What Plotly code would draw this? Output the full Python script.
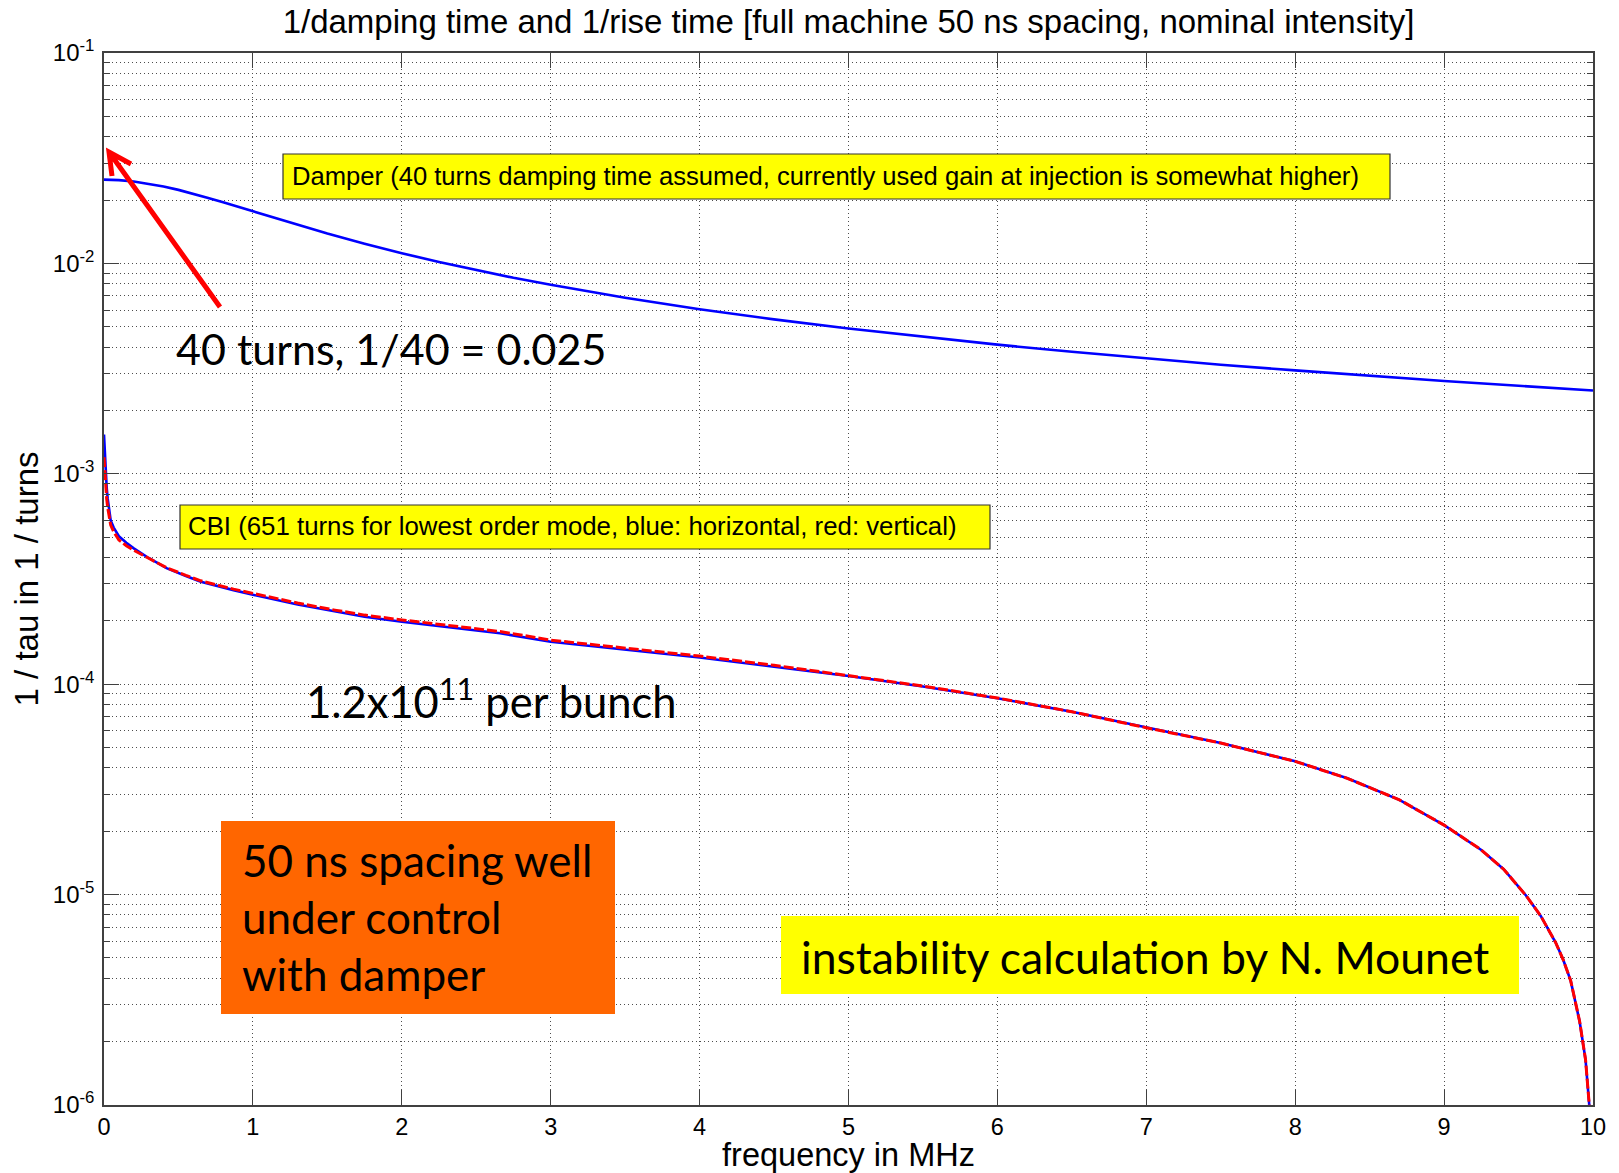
import plotly.graph_objects as go

# ---- data -------------------------------------------------------------
# damper: 1/damping time (1/turns) vs frequency (MHz)
damper_f = [0, 0.1, 0.2, 0.3, 0.4, 0.5, 0.6, 0.7, 0.8, 0.9, 1.0, 1.125, 1.25,
            1.375, 1.5, 1.75, 2.0, 2.25, 2.5, 2.75, 3.0, 3.5, 4.0, 4.5, 5.0,
            5.5, 6.0, 6.5, 7.0, 7.5, 8.0, 8.5, 9.0, 9.5, 10.0]
damper_rate = [0.0250, 0.02488, 0.02452, 0.02395, 0.02321, 0.02236, 0.02144,
               0.02048, 0.01952, 0.01858, 0.01768, 0.01663, 0.01562, 0.01470,
               0.01387, 0.01241, 0.01118, 0.01016, 0.00928, 0.00854, 0.00791,
               0.00687, 0.00606, 0.00542, 0.00490, 0.00447, 0.00411, 0.00380,
               0.00354, 0.00330, 0.00310, 0.00292, 0.00276, 0.00262, 0.00249]

# coupled-bunch instability: 1/rise time (1/turns) vs frequency (MHz)
cbi_f = [0.0, 0.005, 0.01, 0.018, 0.025, 0.035, 0.045, 0.065, 0.1, 0.15, 0.2,
         0.3, 0.42, 0.55, 0.65, 0.87, 1.0, 1.3, 1.55, 1.75, 2.0, 2.33, 2.66,
         3.0, 3.5, 4.0, 4.5, 5.0, 5.5, 6.0, 6.5, 7.0, 7.5, 8.0, 8.35, 8.7,
         9.0, 9.25, 9.4, 9.55, 9.65, 9.75, 9.8, 9.85, 9.91, 9.95, 9.975,
         9.99]
cbi_horizontal = [1.536e-3, 1.25e-3, 1.05e-3, 8.6e-4, 7.6e-4, 6.6e-4, 6.0e-4,
                  5.55e-4, 5.05e-4, 4.7e-4, 4.42e-4, 3.98e-4, 3.56e-4,
                  3.27e-4, 3.07e-4, 2.80e-4, 2.66e-4, 2.39e-4, 2.21e-4,
                  2.09e-4, 1.98e-4, 1.86e-4, 1.745e-4, 1.59e-4, 1.46e-4,
                  1.34e-4, 1.21e-4, 1.094e-4, 9.75e-5, 8.57e-5, 7.4e-5,
                  6.21e-5, 5.25e-5, 4.30e-5, 3.57e-5, 2.82e-5, 2.14e-5,
                  1.63e-5, 1.32e-5, 9.9e-6, 7.9e-6, 5.9e-6, 4.9e-6, 3.9e-6,
                  2.5e-6, 1.64e-6, 1.0e-6, 5.0e-7]
cbi_vertical = [1.2e-3, 1.05e-3, 9.0e-4, 7.6e-4, 6.9e-4, 6.2e-4, 5.7e-4,
                5.3e-4, 4.85e-4, 4.55e-4, 4.33e-4, 3.97e-4, 3.58e-4, 3.29e-4,
                3.10e-4, 2.83e-4, 2.70e-4, 2.43e-4, 2.25e-4, 2.13e-4, 2.02e-4,
                1.90e-4, 1.78e-4, 1.62e-4, 1.48e-4, 1.36e-4, 1.23e-4,
                1.10e-4, 9.8e-5, 8.6e-5, 7.4e-5, 6.21e-5, 5.25e-5, 4.30e-5,
                3.57e-5, 2.82e-5, 2.14e-5, 1.63e-5, 1.32e-5, 9.9e-6, 7.9e-6,
                5.9e-6, 4.9e-6, 3.9e-6, 2.5e-6, 1.64e-6, 1.0e-6, 5.0e-7]

x_ticks = list(range(0, 11))
y_exponents = [-6, -5, -4, -3, -2, -1]
y_major = [10.0 ** e for e in y_exponents]
y_labels = ["10<sup>%d</sup>" % e for e in y_exponents]
y_minor = [m * 10.0 ** e for e in y_exponents[:-1] for m in range(2, 10)]

# ---- figure geometry (pixels) ----------------------------------------
W, H = 1619, 1173
L, R, T, B = 104, 1593, 53, 1105


def paper(px, py):
    """pixel position -> paper coordinates"""
    return (px - L) / (R - L), 1 - (py - T) / (B - T)


ARIAL = "Liberation Sans, Arial, sans-serif"
SANS = "Lato, Carlito, Calibri, sans-serif"
GRID = "#4d4d4d"
AXIS = "#404040"

fig = go.Figure()

fig.add_trace(go.Scatter(x=damper_f, y=damper_rate, mode="lines",
                         line=dict(color="#0000ff", width=2.6),
                         name="damper", showlegend=False))
fig.add_trace(go.Scatter(x=cbi_f, y=cbi_horizontal, mode="lines",
                         line=dict(color="#0000ff", width=2.6),
                         name="CBI horizontal", showlegend=False))
fig.add_trace(go.Scatter(x=cbi_f, y=cbi_vertical, mode="lines",
                         line=dict(color="#ff0000", width=3, dash="10px,3px"),
                         name="CBI vertical", showlegend=False))

shapes = []
annotations = []


def box(x0, y0, x1, y1, fill, border=None):
    p0 = paper(x0, y0)
    p1 = paper(x1, y1)
    shapes.append(dict(type="rect", xref="paper", yref="paper",
                       x0=p0[0], y0=p0[1], x1=p1[0], y1=p1[1],
                       fillcolor=fill, layer="above",
                       line=dict(color=border or fill, width=1.2 if border else 0)))


def label(px, py, text, size, family, xanchor="left", align="left"):
    p = paper(px, py)
    annotations.append(dict(xref="paper", yref="paper", x=p[0], y=p[1],
                            text=text, showarrow=False, xanchor=xanchor,
                            yanchor="middle", align=align,
                            font=dict(family=family, size=size, color="black")))


# damper note
box(283, 154, 1390, 199, "#ffff00", "#333333")
label(290, 176, "Damper (40 turns damping time assumed, currently used gain at "
      "injection is somewhat higher)", 25.6, ARIAL)

# CBI note
box(180, 505, 990, 549, "#ffff00", "#333333")
label(186, 526, "CBI (651 turns for lowest order mode, blue: horizontal, "
      "red: vertical)", 25.8, ARIAL)

# slide-style remarks
label(174, 348, "40 turns, 1/40 = 0.025", 43, SANS)
label(304, 698, "1.2x10<sup>11</sup> per bunch", 43.5, SANS)

box(221, 821, 615, 1014, "#ff6600")
label(240, 917, "50 ns spacing well<br>under control<br>with damper", 44, SANS)

box(781, 916, 1519, 994, "#ffff00")
label(1145, 956, "instability calculation by N. Mounet", 44.5, SANS,
      xanchor="center", align="center")

# red arrow pointing at the damper level at f = 0
tail = paper(220, 307)
tip = paper(109, 152)
arm1 = paper(112, 176)
arm2 = paper(131, 164)
shapes.append(dict(type="path", xref="paper", yref="paper", layer="above",
                   path="M %f %f L %f %f M %f %f L %f %f L %f %f" % (
                       tail[0], tail[1], tip[0], tip[1],
                       arm1[0], arm1[1], tip[0], tip[1], arm2[0], arm2[1]),
                   line=dict(color="#ff0000", width=5)))

fig.update_layout(
    width=W, height=H,
    margin=dict(l=L, r=W - R, t=T, b=H - B, pad=0, autoexpand=False),
    paper_bgcolor="white", plot_bgcolor="white",
    title=dict(text="1/damping time and 1/rise time [full machine 50 ns "
                    "spacing, nominal intensity]",
               x=(L + R) / 2 / W, xanchor="center", y=1 - 21 / H,
               yanchor="middle",
               font=dict(family=ARIAL, size=33, color="black")),
    shapes=shapes, annotations=annotations,
)

fig.update_xaxes(
    range=[0, 10], tickmode="array", tickvals=x_ticks, automargin=False,
    ticks="inside", ticklen=15, tickwidth=1.2, tickcolor=AXIS,
    showline=True, linecolor=AXIS, linewidth=1.5, mirror="ticks",
    showgrid=True, gridcolor=GRID, gridwidth=1, griddash="1px,3px",
    zeroline=False,
    tickfont=dict(family=ARIAL, size=23.5, color="black"),
    title=dict(text="frequency in MHz", standoff=6,
               font=dict(family=ARIAL, size=32.5, color="black")),
)

fig.update_yaxes(
    type="log", range=[-6, -1], tickmode="array", tickvals=y_major,
    ticktext=y_labels, automargin=False,
    ticks="inside", ticklen=15, tickwidth=1.2, tickcolor=AXIS,
    showline=True, linecolor=AXIS, linewidth=1.5, mirror="ticks",
    showgrid=True, gridcolor=GRID, gridwidth=1, griddash="1px,3px",
    zeroline=False, ticklabelstandoff=3,
    minor=dict(tickmode="array", tickvals=y_minor, ticks="inside", ticklen=6,
               tickwidth=1.2, tickcolor=AXIS, showgrid=True, gridcolor=GRID,
               gridwidth=1, griddash="1px,3px"),
    tickfont=dict(family=ARIAL, size=24, color="black"),
    title=dict(text="1 / tau in 1 / turns", standoff=4,
               font=dict(family=ARIAL, size=33, color="black")),
)

fig.write_html("out.html")
